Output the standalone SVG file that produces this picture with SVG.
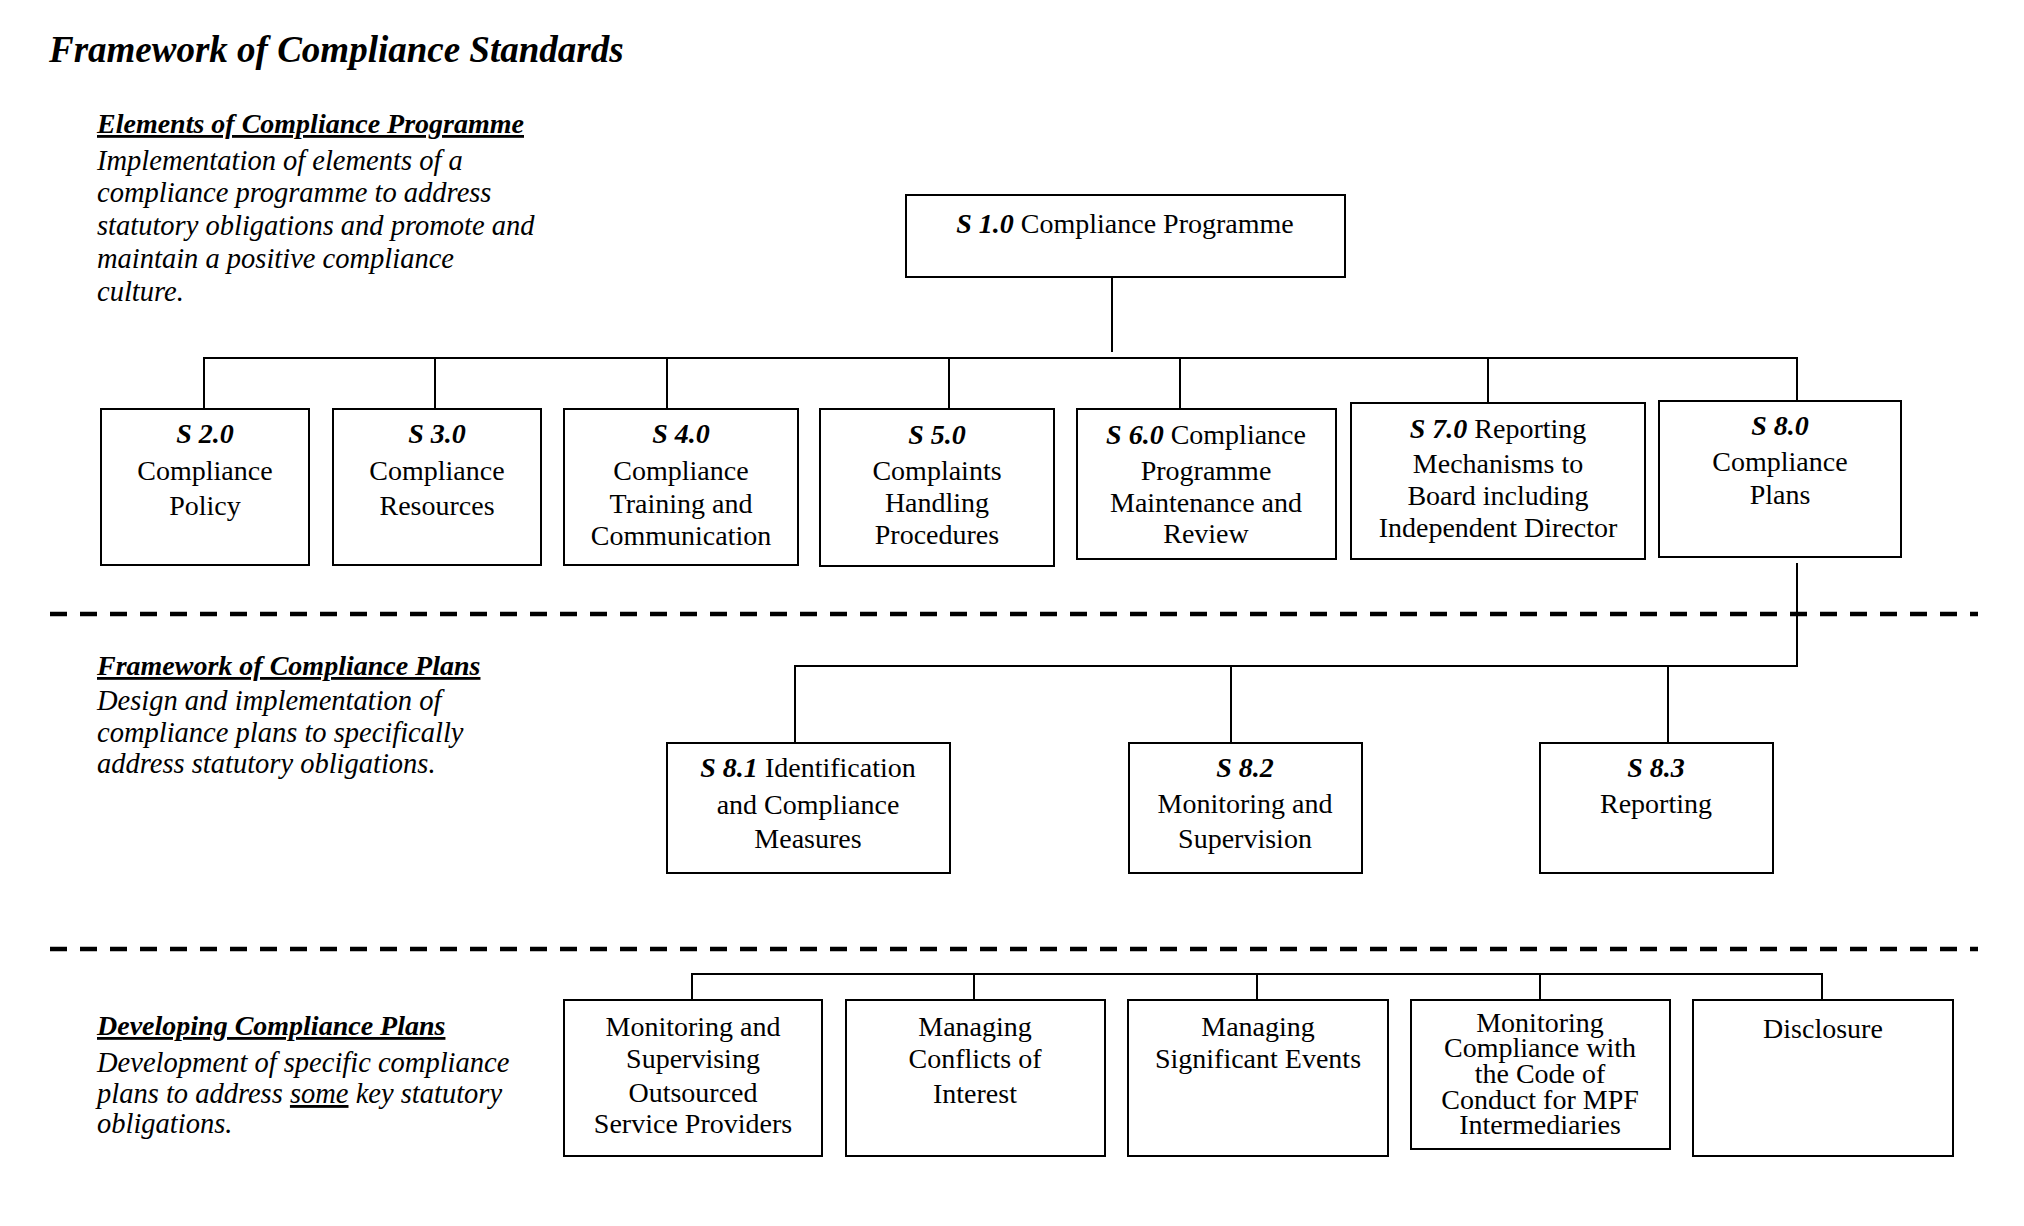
<svg xmlns="http://www.w3.org/2000/svg" width="2024" height="1226" viewBox="0 0 2024 1226">
<style>
text{font-family:"Liberation Serif","Times New Roman",serif;fill:#000}
.title{font-size:37px;font-weight:bold;font-style:italic}
.head{font-size:28px;font-weight:bold;font-style:italic;text-decoration:underline}
.body{font-size:28.5px;font-style:italic}
.n{font-size:28px;text-anchor:middle}
.b{font-weight:bold;font-style:italic}
.box{fill:#fff;stroke:#000;stroke-width:2}
.ln{stroke:#000;stroke-width:2;fill:none}
.dash{stroke:#000;stroke-width:4.5;stroke-dasharray:17 13;fill:none}
</style>
<rect width="2024" height="1226" fill="#fff"/>
<g id="labels">
<text class="title" x="49" y="62">Framework of Compliance Standards</text>
<text class="head" x="97" y="133">Elements of Compliance Programme</text>
<text class="body" x="97" y="170">Implementation of elements of a</text>
<text class="body" x="97" y="202">compliance programme to address</text>
<text class="body" x="97" y="235">statutory obligations and promote and</text>
<text class="body" x="97" y="268">maintain a positive compliance</text>
<text class="body" x="97" y="301">culture.</text>
<text class="head" x="97" y="675">Framework of Compliance Plans</text>
<text class="body" x="97" y="710">Design and implementation of</text>
<text class="body" x="97" y="742">compliance plans to specifically</text>
<text class="body" x="97" y="773">address statutory obligations.</text>
<text class="head" x="97" y="1035">Developing Compliance Plans</text>
<text class="body" x="97" y="1072">Development of specific compliance</text>
<text class="body" x="97" y="1103">plans to address <tspan text-decoration="underline">some</tspan> key statutory</text>
<text class="body" x="97" y="1133">obligations.</text>
</g>
<g id="separators">
<line class="dash" x1="50" y1="614" x2="1978" y2="614"/>
<line class="dash" x1="50" y1="949" x2="1978" y2="949"/>
</g>
<g id="connectors">
<line class="ln" x1="1112" y1="277" x2="1112" y2="352"/>
<line class="ln" x1="203" y1="358" x2="1798" y2="358"/>
<line class="ln" x1="204" y1="358" x2="204" y2="409"/>
<line class="ln" x1="435" y1="358" x2="435" y2="409"/>
<line class="ln" x1="667" y1="358" x2="667" y2="409"/>
<line class="ln" x1="949" y1="358" x2="949" y2="409"/>
<line class="ln" x1="1180" y1="358" x2="1180" y2="409"/>
<line class="ln" x1="1488" y1="358" x2="1488" y2="409"/>
<line class="ln" x1="1797" y1="358" x2="1797" y2="401"/>
<polyline class="ln" points="1797,563 1797,666 795,666 795,743"/>
<line class="ln" x1="1231" y1="666" x2="1231" y2="743"/>
<line class="ln" x1="1668" y1="666" x2="1668" y2="743"/>
<polyline class="ln" points="692,1000 692,974 1822,974 1822,1000"/>
<line class="ln" x1="974" y1="974" x2="974" y2="1000"/>
<line class="ln" x1="1257" y1="974" x2="1257" y2="1000"/>
<line class="ln" x1="1540" y1="974" x2="1540" y2="1000"/>
</g>
<g id="s1">
<rect class="box" x="906" y="195" width="439" height="82"/>
<text class="n" x="1125" y="233"><tspan class="b">S 1.0</tspan>  Compliance Programme</text>
</g>
<g id="s2">
<rect class="box" x="101" y="409" width="208" height="156"/>
<text class="n" x="205" y="443"><tspan class="b">S 2.0</tspan></text>
<text class="n" x="205" y="480">Compliance</text>
<text class="n" x="205" y="515">Policy</text>
</g>
<g id="s3">
<rect class="box" x="333" y="409" width="208" height="156"/>
<text class="n" x="437" y="443"><tspan class="b">S 3.0</tspan></text>
<text class="n" x="437" y="480">Compliance</text>
<text class="n" x="437" y="515">Resources</text>
</g>
<g id="s4">
<rect class="box" x="564" y="409" width="234" height="156"/>
<text class="n" x="681" y="443"><tspan class="b">S 4.0</tspan></text>
<text class="n" x="681" y="480">Compliance</text>
<text class="n" x="681" y="513">Training and</text>
<text class="n" x="681" y="545">Communication</text>
</g>
<g id="s5">
<rect class="box" x="820" y="409" width="234" height="157"/>
<text class="n" x="937" y="444"><tspan class="b">S 5.0</tspan></text>
<text class="n" x="937" y="480">Complaints</text>
<text class="n" x="937" y="512">Handling</text>
<text class="n" x="937" y="544">Procedures</text>
</g>
<g id="s6">
<rect class="box" x="1077" y="409" width="259" height="150"/>
<text class="n" x="1206" y="444"><tspan class="b">S 6.0</tspan> Compliance</text>
<text class="n" x="1206" y="480">Programme</text>
<text class="n" x="1206" y="512">Maintenance and</text>
<text class="n" x="1206" y="543">Review</text>
</g>
<g id="s7">
<rect class="box" x="1351" y="403" width="294" height="156"/>
<text class="n" x="1498" y="438"><tspan class="b">S 7.0</tspan> Reporting</text>
<text class="n" x="1498" y="473">Mechanisms to</text>
<text class="n" x="1498" y="505">Board including</text>
<text class="n" x="1498" y="537">Independent Director</text>
</g>
<g id="s8">
<rect class="box" x="1659" y="401" width="242" height="156"/>
<text class="n" x="1780" y="435"><tspan class="b">S 8.0</tspan></text>
<text class="n" x="1780" y="471">Compliance</text>
<text class="n" x="1780" y="504">Plans</text>
</g>
<g id="s81">
<rect class="box" x="667" y="743" width="283" height="130"/>
<text class="n" x="808" y="777"><tspan class="b">S 8.1</tspan> Identification</text>
<text class="n" x="808" y="814">and Compliance</text>
<text class="n" x="808" y="848">Measures</text>
</g>
<g id="s82">
<rect class="box" x="1129" y="743" width="233" height="130"/>
<text class="n" x="1245" y="777"><tspan class="b">S 8.2</tspan></text>
<text class="n" x="1245" y="813">Monitoring and</text>
<text class="n" x="1245" y="848">Supervision</text>
</g>
<g id="s83">
<rect class="box" x="1540" y="743" width="233" height="130"/>
<text class="n" x="1656" y="777"><tspan class="b">S 8.3</tspan></text>
<text class="n" x="1656" y="813">Reporting</text>
</g>
<g id="p1">
<rect class="box" x="564" y="1000" width="258" height="156"/>
<text class="n" x="693" y="1036">Monitoring and</text>
<text class="n" x="693" y="1068">Supervising</text>
<text class="n" x="693" y="1102">Outsourced</text>
<text class="n" x="693" y="1133">Service Providers</text>
</g>
<g id="p2">
<rect class="box" x="846" y="1000" width="259" height="156"/>
<text class="n" x="975" y="1036">Managing</text>
<text class="n" x="975" y="1068">Conflicts of</text>
<text class="n" x="975" y="1103">Interest</text>
</g>
<g id="p3">
<rect class="box" x="1128" y="1000" width="260" height="156"/>
<text class="n" x="1258" y="1036">Managing</text>
<text class="n" x="1258" y="1068">Significant Events</text>
</g>
<g id="p4">
<rect class="box" x="1411" y="1000" width="259" height="149"/>
<text class="n" x="1540" y="1032">Monitoring</text>
<text class="n" x="1540" y="1057">Compliance with</text>
<text class="n" x="1540" y="1083">the Code of</text>
<text class="n" x="1540" y="1109">Conduct for MPF</text>
<text class="n" x="1540" y="1134">Intermediaries</text>
</g>
<g id="p5">
<rect class="box" x="1693" y="1000" width="260" height="156"/>
<text class="n" x="1823" y="1038">Disclosure</text>
</g>
</svg>
